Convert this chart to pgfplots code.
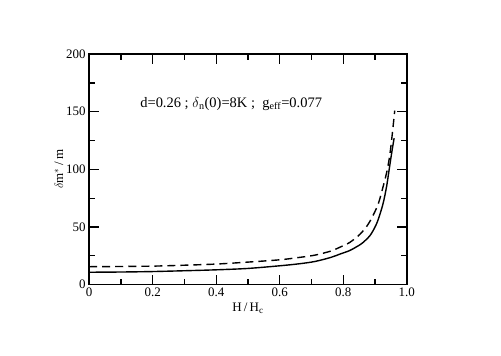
\documentclass[border=0pt]{standalone}
\usepackage{pgfplots}
\pgfplotsset{compat=1.18}
\usepackage{fontspec}
\setmainfont{Liberation Serif}

\begin{document}
\begin{tikzpicture}
\begin{axis}[
    name=ax,
    scale only axis,
    width=317bp, height=230bp,
    xmin=0, xmax=1, ymin=0, ymax=200,
    xtick={0,0.2,0.4,0.6,0.8,1.0},
    xticklabels={0,0.2,0.4,0.6,0.8,1.0},
    minor x tick num=1,
    ytick={0,50,100,150,200},
    minor y tick num=1,
    tick align=inside,
    major tick length=10bp,
    minor tick length=6bp,
    every tick/.style={black, line width=1.2pt},
    axis line style={line width=1.6pt},
    /pgf/number format/assume math mode=true,
    tick label style={font=\fontsize{13}{15}\selectfont},
    label style={font=\fontsize{13}{15}\selectfont},
    xlabel={H\,/\,H$_{\mathrm{c}}$},
    ylabel={$\delta$m$^*$\,/\,m},
    xlabel style={yshift=1bp},
    ylabel style={yshift=-4bp},
]
% solid curve
\addplot[black, line width=1.4pt, smooth] coordinates {
    (0,10.7) (0.1,10.9) (0.2,11.3) (0.3,12) (0.4,12.8) (0.5,14)
    (0.6,16.3) (0.66,18) (0.71,20) (0.76,23.5) (0.79,26.5) (0.82,29.5)
    (0.84,32.5) (0.86,36) (0.884,42.5) (0.9,50) (0.91,56.5) (0.925,70)
    (0.936,84.6) (0.944,99) (0.952,113.6) (0.96,127)
};
% dashed curve
\addplot[black, line width=1.4pt, smooth, dash pattern=on 8bp off 5bp] coordinates {
    (0,15.5) (0.1,15.7) (0.2,16) (0.3,16.8) (0.4,17.8) (0.5,19.5)
    (0.6,21.5) (0.66,23.5) (0.71,25.5) (0.76,29) (0.79,32.5) (0.82,36.5)
    (0.852,43.5) (0.875,51) (0.891,58.5) (0.91,70) (0.925,84.6) (0.938,99)
    (0.947,113.6) (0.954,130) (0.962,151)
};
\node[anchor=west, font=\fontsize{14.5}{16}\selectfont] at (axis cs:0.15,157)
    {d=0.26 ; $\delta$$_{\mathrm{n}}$(0)=8K ;\ \ g$_{\mathrm{eff}}$=0.077};
\end{axis}
\path[use as bounding box] ([xshift=-89bp,yshift=-71bp]ax.south west)
    rectangle ([xshift=94bp,yshift=54bp]ax.north east);
\end{tikzpicture}
\end{document}
